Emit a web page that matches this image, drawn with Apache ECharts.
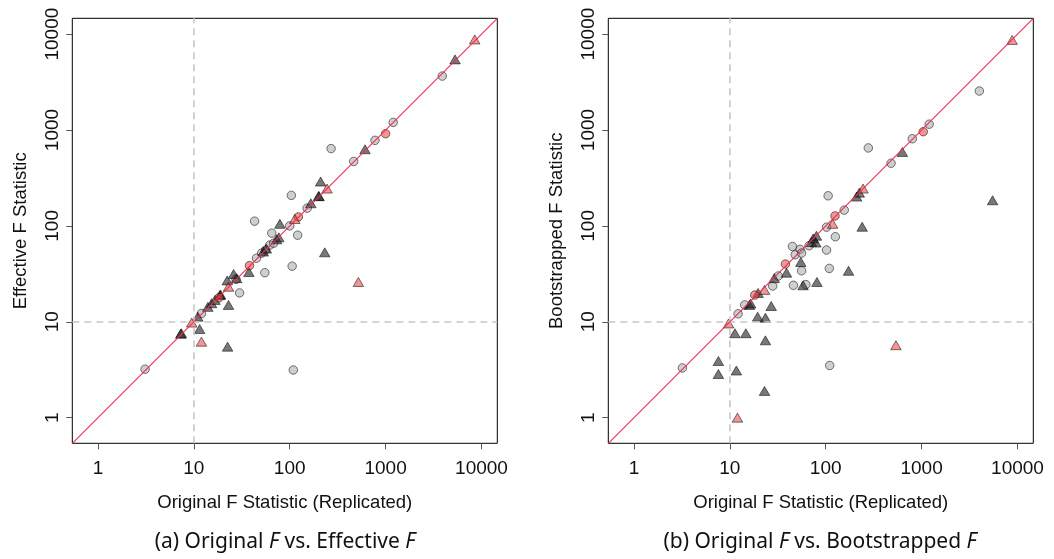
<!DOCTYPE html>
<html>
<head>
<meta charset="utf-8">
<script src="https://cdn.jsdelivr.net/npm/echarts@6/dist/echarts.min.js"></script>
<style>
  html, body { margin: 0; padding: 0; background: #fff; }
  #chart { width: 1054px; height: 559px; }
</style>
</head>
<body>
<div id="chart"></div>
<script>
// Axis ticks shared by both panels (log scale)
const tickValues = [1, 10, 100, 1000, 10000];
const axisMin = 0.54;
const axisMax = 14620;

// Panel (a): original F (x) vs effective F (y)
const effCircles = [
  [3.1, 3.2], [12, 12.2], [27.5, 27.7], [30, 20], [43, 112], [55, 32.5], [45, 46], [51, 52],
  [56, 56], [62, 63], [65, 84], [68, 66], [100, 100], [104, 208], [121, 80],
  [106, 38], [109, 3.14], [152, 153], [270, 640], [465, 470], [775, 780],
  [1200, 1200], [3900, 3650]
];
const effTriangles = [
  [7.4, 7.6], [7.3, 7.5], [11, 11.3], [11.5, 8.4], [22.5, 5.5], [14, 14.3],
  [15.3, 15.6], [16.6, 16.9], [18.7, 19], [19, 19.2], [23, 15], [22.3, 27],
  [26, 31.5], [28, 28.5], [37.5, 33], [53, 54], [57, 58], [73, 72.5], [77, 76],
  [79, 105], [166, 172], [200, 205], [202, 204], [210, 290], [232, 53],
  [610, 630], [5300, 5450]
];
const effRedCircles = [[18.3, 17.8], [38, 38.5], [123, 124], [1000, 915]];
const effRedTriangles = [
  [9.5, 9.8], [12, 6.2], [23, 23.2], [113, 118], [245, 245], [520, 26], [8500, 8800]
];

// Panel (b): original F (x) vs bootstrapped F (y)
const bootCircles = [
  [3.2, 3.3], [12.2, 12.1], [14.3, 15], [28, 23.6], [32, 30], [46, 24], [62, 24.4],
  [56, 34], [45, 61], [54, 57], [48, 50], [56, 52], [67, 62], [102, 97], [102, 56],
  [109, 36], [110, 3.5], [126, 77], [106, 206], [156, 146], [278, 650], [480, 450],
  [800, 810], [1200, 1150], [4000, 2550]
];
const bootTriangles = [
  [7.6, 3.9], [7.6, 2.85], [11.3, 7.6], [14.7, 7.6], [11.7, 3.1], [23, 1.9],
  [23.5, 6.4], [19.5, 11.3], [23.5, 11], [27, 14.6], [16, 15], [16.5, 15.5],
  [19.7, 20], [29, 28.5], [39, 32.5], [55, 42], [58, 24], [81, 26], [71, 68],
  [74, 74], [79, 67], [80, 79], [173, 34], [240, 98], [210, 202], [224, 222],
  [630, 590], [5500, 185]
];
const bootRedCircles = [[18.2, 19], [38, 40], [125, 127], [1040, 960]];
const bootRedTriangles = [
  [9.7, 9.6], [12, 1.0], [23, 21.5], [118, 105], [245, 245], [540, 5.7], [8800, 8700]
];

// threshold at F = 10; the y = x line runs across the full axis range
const threshold = 10;

const xTitle = 'Original F Statistic (Replicated)';
const yTitles = ['Effective F Statistic', 'Bootstrapped F Statistic'];

const tickFont = '"Liberation Sans", Arial, Helvetica, sans-serif';
const lineRed = '#e8304c';

const chart = echarts.init(document.getElementById('chart'), null, { renderer: 'canvas' });

const grids = [
  { left: 72.3, top: 18.3, width: 425, height: 425 },
  { left: 608.3, top: 18.3, width: 425, height: 425 }
].map(g => Object.assign(g, { show: true, borderColor: '#000', borderWidth: 1, backgroundColor: 'transparent' }));

function logAxis(gridIndex, isX, title) {
  return {
    type: 'log',
    logBase: 10,
    gridIndex,
    min: axisMin,
    max: axisMax,
    name: title,
    nameLocation: 'middle',
    nameGap: isX ? 50 : 42,
    nameRotate: isX ? 0 : 90,
    nameTextStyle: { fontFamily: tickFont, fontSize: 18.5, color: '#111' },
    axisLine: { show: false },
    splitLine: { show: false },
    minorTick: { show: false },
    axisTick: {
      show: true, length: 6, inside: false,
      customValues: tickValues,
      lineStyle: { color: '#555', width: 1 }
    },
    axisLabel: {
      customValues: tickValues,
      rotate: isX ? 0 : 90,
      margin: isX ? 16 : 10,
      fontFamily: tickFont,
      fontSize: 19,
      color: '#111',
      formatter: v => String(Math.round(v))
    }
  };
}

const xAxes = [logAxis(0, true, xTitle), logAxis(1, true, xTitle)];
const yAxes = [logAxis(0, false, yTitles[0]), logAxis(1, false, yTitles[1])];

const circleFill = 'rgba(160,160,160,0.5)';
const triFill = 'rgba(30,30,30,0.6)';
const redFill = 'rgba(236,60,60,0.55)';
const edge = 'rgba(0,0,0,0.65)';

function points(idx, data, shape, fill) {
  return {
    type: 'scatter',
    xAxisIndex: idx,
    yAxisIndex: idx,
    data,
    symbol: shape,
    symbolSize: shape === 'circle' ? 8.5 : [10.5, 9],
    itemStyle: { color: fill, borderColor: edge, borderWidth: 0.8, opacity: 1 },
    emphasis: { disabled: true },
    silent: true,
    z: 3
  };
}

// Host series for the reference lines of one panel: dashed F = 10 guides and the y = x line
function guides(idx) {
  const dashed = { color: '#c8c8c8', type: [7, 5], width: 1.6 };
  const diag = { color: lineRed, type: 'solid', width: 1.1 };
  return {
    type: 'scatter',
    xAxisIndex: idx,
    yAxisIndex: idx,
    data: [],
    silent: true,
    z: 2,
    markLine: {
      silent: true,
      symbol: ['none', 'none'],
      label: { show: false },
      emphasis: { disabled: true },
      animation: false,
      data: [
        { xAxis: threshold, lineStyle: dashed },
        { yAxis: threshold, lineStyle: dashed },
        [
          { coord: [axisMin, axisMin], lineStyle: diag },
          { coord: [axisMax, axisMax] }
        ]
      ]
    }
  };
}

const series = [
  guides(0),
  points(0, effCircles, 'circle', circleFill),
  points(0, effTriangles, 'triangle', triFill),
  points(0, effRedCircles, 'circle', redFill),
  points(0, effRedTriangles, 'triangle', redFill),
  guides(1),
  points(1, bootCircles, 'circle', circleFill),
  points(1, bootTriangles, 'triangle', triFill),
  points(1, bootRedCircles, 'circle', redFill),
  points(1, bootRedTriangles, 'triangle', redFill)
];

const captionFont = '"Noto Sans", "Open Sans", sans-serif';
function caption(x, label, target) {
  return {
    type: 'text',
    x, y: 542,
    style: {
      text: `{n|${label} Original }{i|F}{n| vs. ${target} }{i|F}`,
      align: 'center',
      verticalAlign: 'middle',
      rich: {
        n: { fontFamily: captionFont, fontSize: 21, fill: '#111' },
        i: { fontFamily: captionFont, fontSize: 21, fontStyle: 'italic', fill: '#111' }
      }
    }
  };
}

chart.setOption({
  animation: false,
  backgroundColor: '#fff',
  grid: grids,
  xAxis: xAxes,
  yAxis: yAxes,
  series,
  graphic: [
    caption(285, '(a)', 'Effective'),
    caption(820, '(b)', 'Bootstrapped')
  ]
});
</script>
</body>
</html>
